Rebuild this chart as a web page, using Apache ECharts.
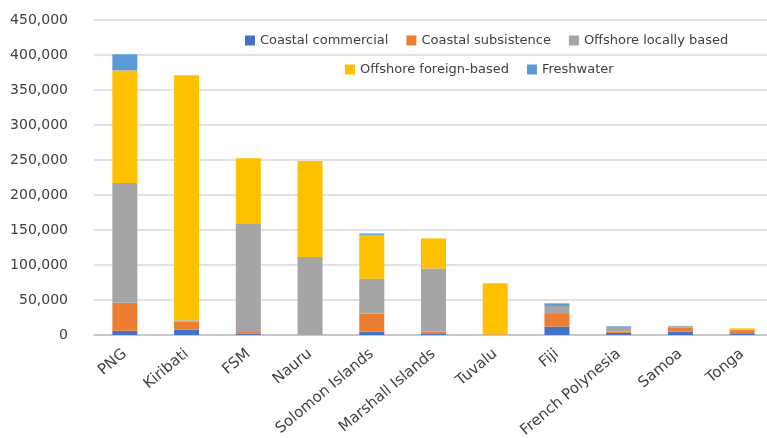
<!DOCTYPE html>
<html>
<head>
<meta charset="utf-8">
<script src="https://cdn.jsdelivr.net/npm/echarts@6/dist/echarts.min.js"></script>
<style>html,body{margin:0;padding:0;background:#fff}#c{width:767px;height:438px}</style>
</head>
<body>
<div id="c"></div>
<script>
const categories = ['PNG','Kiribati','FSM','Nauru','Solomon Islands','Marshall Islands','Tuvalu','Fiji','French Polynesia','Samoa','Tonga'];
const coastalCommercial   = [6000, 7500, 2000, 0, 5000, 1500, 300, 12000, 3000, 5000, 2500];
const coastalSubsistence  = [40000, 11500, 3500, 500, 25500, 3000, 500, 18000, 2000, 6000, 4500];
const offshoreLocal       = [171000, 2000, 153000, 111000, 50000, 90500, 0, 11500, 7000, 1500, 1000];
const offshoreForeign     = [161000, 350000, 94000, 137000, 62500, 43000, 73000, 0, 0, 0, 1500];
const freshwater          = [23000, 0, 0, 0, 2000, 0, 0, 3700, 800, 500, 0];
const yTicks = [0, 50000, 100000, 150000, 200000, 250000, 300000, 350000, 400000, 450000];

const names = ['Coastal commercial','Coastal subsistence','Offshore locally based','Offshore foreign-based','Freshwater'];
const colors = ['#4472C4','#ED7D31','#A5A5A5','#FFC000','#5B9BD5'];
const values = [coastalCommercial, coastalSubsistence, offshoreLocal, offshoreForeign, freshwater];

const chart = echarts.init(document.getElementById('c'));
const font = 'DejaVu Sans';
chart.setOption({
  animation: false,
  textStyle: {fontFamily: font},
  legend: [
    {data: names.slice(0,3), left: 240, top: 29, icon: 'rect', itemWidth: 10, itemHeight: 10, itemGap: 18,
     textStyle: {fontFamily: font, fontSize: 13, color: '#404040'}},
    {data: names.slice(3), left: 340, top: 58, icon: 'rect', itemWidth: 10, itemHeight: 10, itemGap: 18,
     textStyle: {fontFamily: font, fontSize: 13, color: '#404040'}}
  ],
  grid: {left: 94, top: 20, width: 679, bottom: 103, containLabel: false, outerBoundsMode: 'none'},
  xAxis: {
    type: 'category', data: categories,
    axisLine: {lineStyle: {color: '#BFBFBF', width: 1.5}},
    axisTick: {show: false},
    axisLabel: {rotate: 40, interval: 0, margin: 17, fontSize: 15, color: '#404040', fontFamily: font}
  },
  yAxis: {
    type: 'value', min: yTicks[0], max: yTicks[yTicks.length-1], interval: yTicks[1]-yTicks[0],
    axisLine: {show: false}, axisTick: {show: false},
    splitLine: {lineStyle: {color: '#D9D9D9', width: 1.5}},
    axisLabel: {margin: 26, fontSize: 14, color: '#404040', fontFamily: font,
      formatter: v => v.toLocaleString('en-US')}
  },
  series: names.map((n,i) => ({
    name: n, type: 'bar', stack: 'total', barWidth: 25,
    itemStyle: {color: colors[i]},
    data: values[i]
  }))
});
</script>
</body>
</html>
